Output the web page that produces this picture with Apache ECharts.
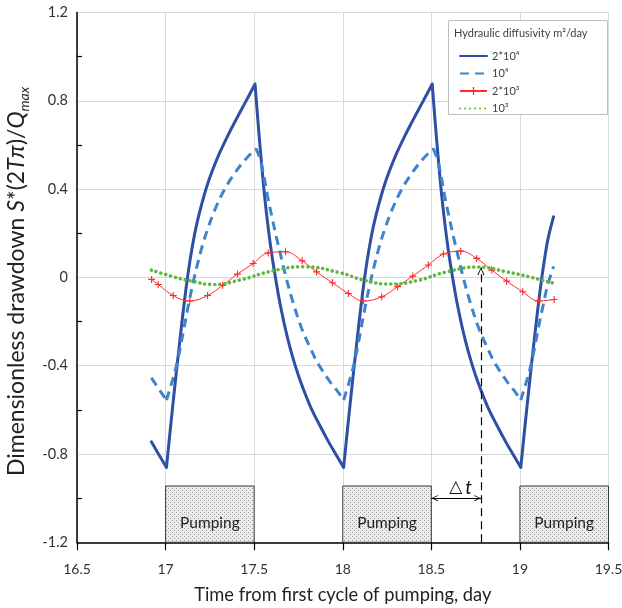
<!DOCTYPE html>
<html>
<head>
<meta charset="utf-8">
<script src="https://cdn.jsdelivr.net/npm/echarts@6/dist/echarts.min.js"></script>
<style>
  html, body { margin: 0; padding: 0; background: #fff; }
  #chart { width: 622px; height: 608px; }
</style>
</head>
<body>
<div id="chart"></div>
<script>
// Axis ranges
const xMin = 16.5, xMax = 19.5, xStep = 0.5;
const yMin = -1.2, yMax = 1.2, yStep = 0.4;

// Hydraulic diffusivity 2*10^4 m2/day
const dayA = [16.92, 16.96, 17.005,
  17.02, 17.04, 17.06, 17.08, 17.10, 17.12, 17.14, 17.16, 17.18, 17.20, 17.23, 17.26, 17.30, 17.35, 17.40, 17.45, 17.505,
  17.52, 17.54, 17.56, 17.58, 17.60, 17.62, 17.65, 17.69, 17.73, 17.77, 17.82, 17.87, 17.92, 17.96, 18.005,
  18.02, 18.04, 18.06, 18.08, 18.10, 18.12, 18.14, 18.16, 18.18, 18.20, 18.23, 18.26, 18.30, 18.35, 18.40, 18.45, 18.505,
  18.52, 18.54, 18.56, 18.58, 18.60, 18.62, 18.65, 18.69, 18.73, 18.77, 18.82, 18.87, 18.92, 18.96, 19.005,
  19.02, 19.04, 19.06, 19.08, 19.10, 19.12, 19.14, 19.16, 19.19];
const sA = [-0.745, -0.80, -0.861,
  -0.741, -0.585, -0.435, -0.29, -0.15, -0.022, 0.088, 0.18, 0.256, 0.32, 0.405, 0.475, 0.555, 0.64, 0.718, 0.793, 0.876,
  0.72, 0.53, 0.36, 0.22, 0.10, 0.0, -0.135, -0.28, -0.395, -0.49, -0.59, -0.67, -0.745, -0.80, -0.861,
  -0.741, -0.585, -0.435, -0.29, -0.15, -0.022, 0.088, 0.18, 0.256, 0.32, 0.405, 0.475, 0.555, 0.64, 0.718, 0.793, 0.876,
  0.72, 0.53, 0.36, 0.22, 0.10, 0.0, -0.135, -0.28, -0.395, -0.49, -0.59, -0.67, -0.745, -0.80, -0.861,
  -0.741, -0.585, -0.435, -0.29, -0.15, -0.022, 0.088, 0.18, 0.275];
// days where the 2*10^4 curve turns (start / end of pumping)
const turnA = [17.005, 17.505, 18.005, 18.505, 19.005];

// Hydraulic diffusivity 10^4 m2/day
const dayB = [16.92, 16.97, 17.005,
  17.03, 17.055, 17.08, 17.105, 17.13, 17.155, 17.18, 17.21, 17.24, 17.28, 17.33, 17.38, 17.44, 17.51,
  17.53, 17.55, 17.575, 17.60, 17.625, 17.65, 17.68, 17.72, 17.77, 17.82, 17.86, 17.93, 17.97, 18.005,
  18.03, 18.055, 18.08, 18.105, 18.13, 18.155, 18.18, 18.21, 18.24, 18.28, 18.33, 18.38, 18.44, 18.51,
  18.53, 18.55, 18.575, 18.60, 18.625, 18.65, 18.68, 18.72, 18.77, 18.82, 18.86, 18.93, 18.97, 19.005,
  19.03, 19.055, 19.08, 19.105, 19.13, 19.155, 19.19];
const sB = [-0.455, -0.515, -0.556,
  -0.49, -0.42, -0.33, -0.225, -0.12, -0.025, 0.06, 0.15, 0.225, 0.31, 0.395, 0.46, 0.525, 0.584,
  0.545, 0.48, 0.37, 0.275, 0.184, 0.10, 0.0, -0.115, -0.235, -0.325, -0.39, -0.475, -0.515, -0.556,
  -0.49, -0.42, -0.33, -0.225, -0.12, -0.025, 0.06, 0.15, 0.225, 0.31, 0.395, 0.46, 0.525, 0.584,
  0.545, 0.48, 0.37, 0.275, 0.184, 0.10, 0.0, -0.115, -0.235, -0.325, -0.39, -0.475, -0.515, -0.556,
  -0.49, -0.42, -0.33, -0.225, -0.13, -0.04, 0.05];
const turnB = [17.005, 17.51, 18.005, 18.51, 19.005];

// Hydraulic diffusivity 2*10^3 m2/day
const dayC = [16.921, 16.958, 17.043, 17.137, 17.237, 17.322, 17.406, 17.494, 17.579, 17.677, 17.771, 17.852, 17.942,
  18.032, 18.116, 18.220, 18.310, 18.395, 18.483, 18.568, 18.666, 18.756, 18.841, 18.925, 19.016, 19.105, 19.193];
const sC = [-0.009, -0.032, -0.082, -0.107, -0.082, -0.036, 0.015, 0.063, 0.111, 0.116, 0.075, 0.025, -0.024,
  -0.073, -0.107, -0.088, -0.042, 0.006, 0.056, 0.106, 0.119, 0.086, 0.033, -0.017, -0.065, -0.107, -0.100];

// Hydraulic diffusivity 10^3 m2/day
const dayD = [16.92, 17.043, 17.137, 17.269, 17.419, 17.607, 17.777, 17.984, 18.116, 18.267, 18.417, 18.587, 18.765, 18.925, 19.05, 19.193];
const sD = [0.033, 0.003, -0.015, -0.032, -0.012, 0.030, 0.048, 0.021, -0.012, -0.030, -0.015, 0.025, 0.047, 0.025, 0.003, -0.027];

const seriesNames = ['2*10\u2074', '10\u2074', '2*10\u00B3', '10\u00B3'];

// Pumping periods (day) and height of the pumping boxes
const pumpStart = [17, 18, 19];
const pumpEnd = [17.5, 18.5, 19.5];
const pumpBoxTop = -0.945;
const pumpLabel = 'Pumping';

// Time lag between end of pumping and the peak of the 10^3 response
const lagFrom = 18.5, lagTo = 18.78, lagLevel = -1.0, lagPeak = 0.045;

const pairs = (xs, ys) => xs.map((x, i) => [x, ys[i]]);

// Split a curve into separately smoothed branches at its turning days,
// so the corners at the start / end of pumping stay sharp.
function branches(xs, ys, turns) {
  const out = [];
  xs.forEach((x, i) => {
    out.push([x, ys[i]]);
    if (i > 0 && i < xs.length - 1 && turns.includes(x)) {
      out.push(['-', '-']);
      out.push([x, ys[i]]);
    }
  });
  return out;
}

const FONT = 'Lato, "Open Sans", sans-serif';

function stipple() {
  const c = document.createElement('canvas');
  c.width = 4; c.height = 4;
  const g = c.getContext('2d');
  g.fillStyle = '#ececec';
  g.fillRect(0, 0, 4, 4);
  g.fillStyle = '#9c9c9c';
  g.fillRect(0, 0, 1, 1);
  g.fillRect(2, 2, 1, 1);
  return c;
}

const crossMark = 'path://M4.2,0H5.8V4.2H10V5.8H5.8V10H4.2V5.8H0V4.2H4.2Z';
// open chevron whose tip sits at the centre of its bounding box
const chevron = 'path://M5,-11L5.01,-11L5,-10.99Z M5,0L10,10L9,10.9L5,2.4L1,10.9L0,10Z';

const titleColor = '#222';
const yTitleStyle = { fontSize: 23, color: titleColor, fontFamily: FONT, lineHeight: 30 };

const chart = echarts.init(document.getElementById('chart'), null, { renderer: 'canvas' });

const option = {
  animation: false,
  backgroundColor: '#fff',
  grid: { left: 77, right: 13.5, top: 12.5, bottom: 65.7, containLabel: false, outerBoundsMode: 'none' },
  xAxis: {
    type: 'value', min: xMin, max: xMax, interval: xStep,
    name: 'Time from first cycle of pumping, day',
    nameLocation: 'middle', nameGap: 44,
    nameTextStyle: { fontSize: 18.3, color: titleColor, fontFamily: FONT },
    axisLine: { show: true, onZero: false, lineStyle: { color: '#000', width: 1.5 } },
    axisTick: { show: true, length: 8, lineStyle: { color: '#000', width: 1.2 } },
    axisLabel: { fontSize: 14, color: '#333', fontFamily: FONT, margin: 20 },
    splitLine: { show: true, lineStyle: { color: '#d9d9d9', width: 1 } }
  },
  yAxis: {
    type: 'value', min: yMin, max: yMax, interval: yStep,
    name: '{r|Dimensionless drawdown }{i|S}{r|*(2}{i|T\u03C0}{r|)/}{i|Q}{s|max}',
    nameLocation: 'middle', nameGap: 44.5,
    nameTextStyle: Object.assign({}, yTitleStyle, {
      padding: [0, 8, 0, 0],
      rich: {
        r: Object.assign({}, yTitleStyle),
        i: Object.assign({}, yTitleStyle, { fontStyle: 'italic' }),
        s: { fontSize: 14, fontStyle: 'italic', color: titleColor, fontFamily: FONT, lineHeight: 13, verticalAlign: 'bottom' }
      }
    }),
    axisLine: { show: true, onZero: false, lineStyle: { color: '#000', width: 1.5 } },
    axisTick: { show: false, inside: true },
    minorTick: { show: true, splitNumber: 2, length: 5, lineStyle: { color: '#000', width: 1.2 } },
    axisLabel: {
      fontSize: 14.5, color: '#333', fontFamily: FONT, margin: 9,
      formatter: v => Math.abs(v) < 1e-9 ? '0' : (+v.toFixed(1)).toString()
    },
    splitLine: { show: true, lineStyle: { color: '#d9d9d9', width: 1 } }
  },
  legend: {
    left: 454, top: 45.5, orient: 'vertical',
    itemWidth: 27, itemHeight: 10, itemGap: 6.5,
    itemStyle: { opacity: 0 },
    data: [
      { name: seriesNames[0] },
      { name: seriesNames[1] },
      { name: seriesNames[2], itemStyle: { opacity: 1 } },
      { name: seriesNames[3] }
    ],
    textStyle: { fontSize: 11, color: '#404040', fontFamily: FONT },
    z: 6
  },
  graphic: [
    { type: 'rect', left: 448, top: 20, z: 5, shape: { width: 159, height: 94 },
      style: { fill: '#fff', stroke: '#bfbfbf', lineWidth: 1 } },
    { type: 'text', left: 454, top: 28, z: 7,
      style: { text: 'Hydraulic diffusivity m\u00B2/day', fontSize: 11, fill: '#404040', fontFamily: FONT } }
  ],
  series: [
    {
      name: seriesNames[0], type: 'line', data: branches(dayA, sA, turnA),
      symbol: 'none', showSymbol: false, smooth: 0.35, connectNulls: false, z: 2,
      lineStyle: { color: '#2f4fa5', width: 3, cap: 'round' },
      itemStyle: { color: '#2f4fa5' },
      markArea: {
        silent: true,
        itemStyle: { color: { image: stipple(), repeat: 'repeat' }, borderColor: '#3a3a3a', borderWidth: 1 },
        label: { show: true, position: 'inside', offset: [0, 9], color: '#222', fontSize: 15.5, fontFamily: FONT },
        data: pumpStart.map((s, i) => [
          { name: pumpLabel, coord: [s, yMin] },
          { coord: [pumpEnd[i], pumpBoxTop] }
        ])
      },
      markLine: {
        silent: true, animation: false,
        symbol: ['none', 'none'],
        label: { show: false },
        data: [
          [
            { coord: [lagTo, yMin], symbol: 'none',
              lineStyle: { color: '#000', width: 1.2, type: [8, 5] } },
            { coord: [lagTo, lagPeak], symbol: chevron, symbolSize: [7, 16] }
          ],
          [
            { coord: [lagFrom, lagLevel], symbol: chevron, symbolSize: [6, 14],
              lineStyle: { color: '#000', width: 1, type: 'solid' },
              label: {
                show: true, position: 'middle', distance: 1,
                formatter: '{d|\u25B3}{t|t}',
                rich: {
                  d: { fontSize: 17, color: '#111', fontFamily: '"DejaVu Sans", sans-serif', padding: [0, 0, 0, 9] },
                  t: { fontSize: 19, color: '#111', fontStyle: 'italic', fontFamily: FONT, padding: [0, 0, 0, 3] }
                }
              } },
            { coord: [lagTo, lagLevel], symbol: chevron, symbolSize: [6, 14] }
          ]
        ]
      }
    },
    {
      name: seriesNames[1], type: 'line', data: branches(dayB, sB, turnB),
      symbol: 'none', showSymbol: false, smooth: 0.35, connectNulls: false, z: 3,
      lineStyle: { color: '#3d84cc', width: 3, type: [9, 6] },
      itemStyle: { color: '#3d84cc' }
    },
    {
      name: seriesNames[2], type: 'line', data: pairs(dayC, sC),
      symbol: crossMark, symbolSize: 7, showSymbol: true, smooth: 0.4, z: 4,
      lineStyle: { color: '#ff2a2a', width: 1 },
      itemStyle: { color: '#ff2a2a' }
    },
    {
      name: seriesNames[3], type: 'line', data: pairs(dayD, sD),
      symbol: 'none', showSymbol: false, smooth: 0.5, z: 5,
      lineStyle: { color: '#5cb83c', width: 3.6, type: [0.01, 5], cap: 'round' },
      itemStyle: { color: '#5cb83c' }
    }
  ]
};

chart.setOption(option);
</script>
</body>
</html>
